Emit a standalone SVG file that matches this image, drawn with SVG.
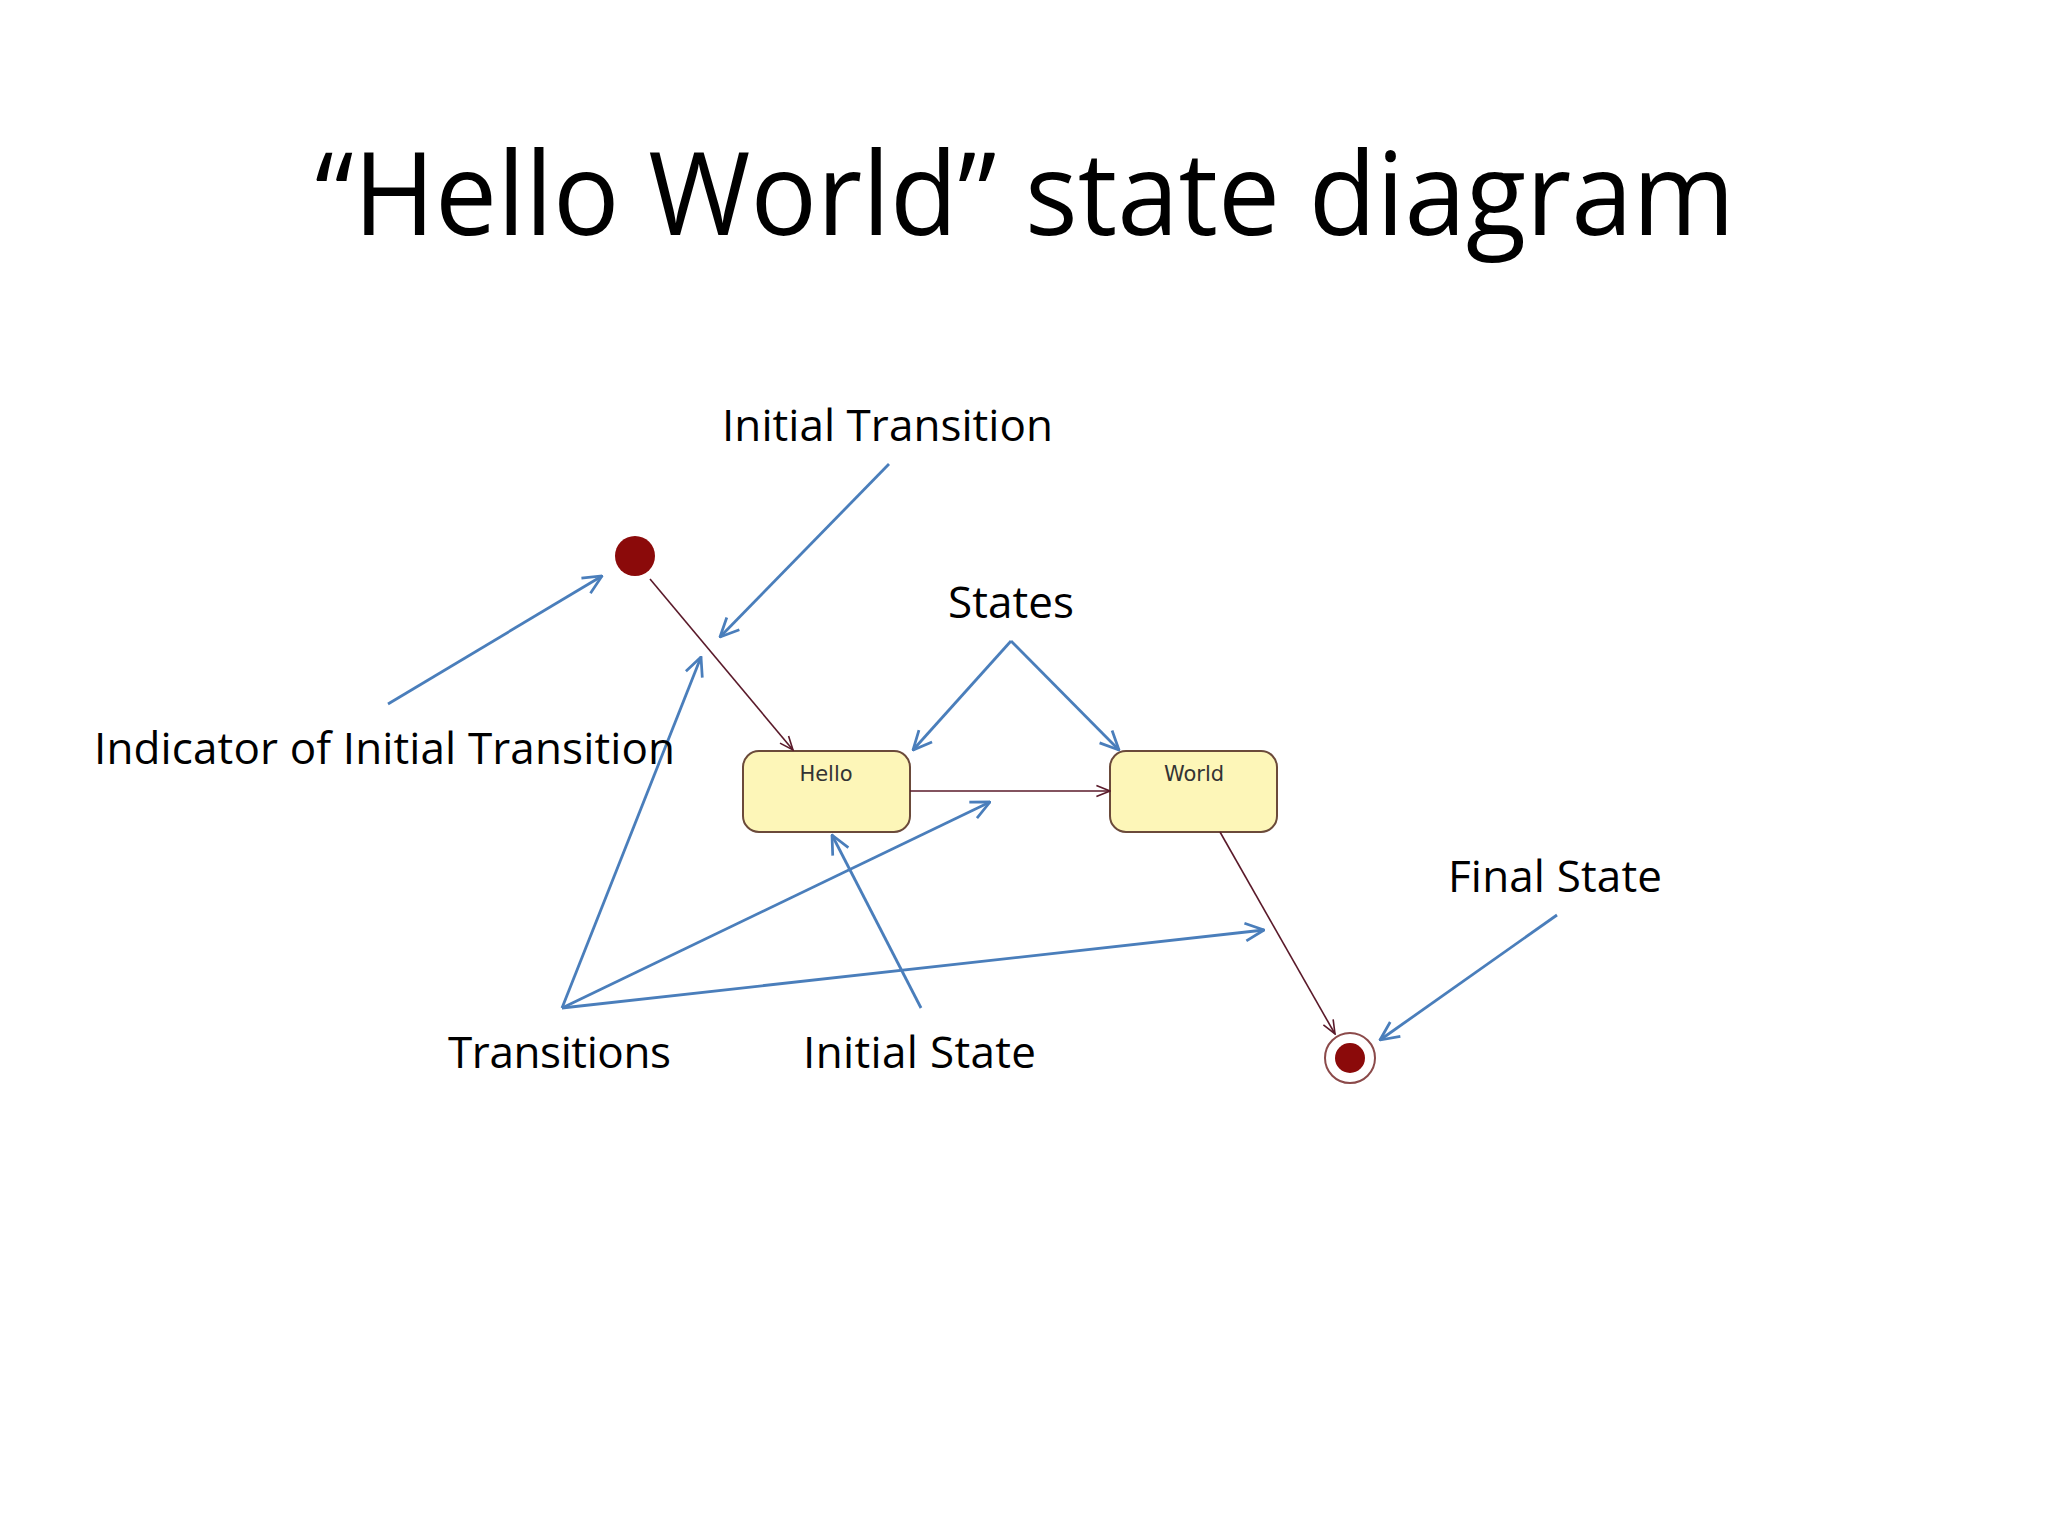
<svg xmlns="http://www.w3.org/2000/svg" width="2048" height="1536" viewBox="0 0 2048 1536">
<defs>
<marker id="blue" viewBox="0 0 20 20" refX="19" refY="10" markerWidth="22" markerHeight="22" markerUnits="userSpaceOnUse" orient="auto"><path d="M2,2 L19,10 L2,18" fill="none" stroke="#4a7ebb" stroke-width="2.5"/></marker>
<marker id="dark" viewBox="0 0 20 20" refX="19" refY="10" markerWidth="16" markerHeight="16" markerUnits="userSpaceOnUse" orient="auto"><path d="M2,3 L19,10 L2,17" fill="none" stroke="#5a1a2a" stroke-width="2"/></marker>
</defs>
<style>
.lbl{font-family:"Open Sans","Liberation Sans",sans-serif;font-size:44px;fill:#000}
.st{font-family:"DejaVu Sans","Liberation Sans",sans-serif;font-size:21px;fill:#333;text-anchor:middle}
.box{fill:#fdf6b8;stroke:#6b4a3a;stroke-width:2}
.b{stroke:#4a7ebb;stroke-width:2.8;fill:none;marker-end:url(#blue)}
.d{stroke:#5a1a2a;stroke-width:1.6;fill:none;marker-end:url(#dark)}
</style>
<rect width="2048" height="1536" fill="#fff"/>
<text x="1025" y="235" text-anchor="middle" font-family="Open Sans, Liberation Sans, sans-serif" font-size="116" textLength="1420" lengthAdjust="spacingAndGlyphs">“Hello World” state diagram</text>
<g id="initial"><circle cx="635" cy="556" r="20" fill="#8b0a0a"/></g>
<g id="hello"><rect class="box" x="743" y="751" width="167" height="81" rx="16"/><text class="st" x="826" y="781">Hello</text></g>
<g id="world"><rect class="box" x="1110" y="751" width="167" height="81" rx="16"/><text class="st" x="1194" y="781">World</text></g>
<g id="final"><circle cx="1350" cy="1058" r="25" fill="#fff" stroke="#8b4a4a" stroke-width="2"/><circle cx="1350" cy="1058" r="15" fill="#8b0a0a"/></g>
<g id="connectors">
<line class="d" x1="650" y1="579" x2="793" y2="750"/>
<line class="d" x1="910" y1="791" x2="1110" y2="791"/>
<line class="d" x1="1220" y1="832" x2="1335" y2="1034"/>
</g>
<g id="annotations">
<line class="b" x1="889" y1="464" x2="720" y2="637"/>
<line class="b" x1="388" y1="704" x2="602" y2="576"/>
<line class="b" x1="1011" y1="641" x2="913" y2="750"/>
<line class="b" x1="1011" y1="641" x2="1119" y2="750"/>
<line class="b" x1="562" y1="1008" x2="701" y2="657"/>
<line class="b" x1="562" y1="1008" x2="990" y2="802"/>
<line class="b" x1="562" y1="1008" x2="1264" y2="930"/>
<line class="b" x1="921" y1="1008" x2="832" y2="835"/>
<line class="b" x1="1557" y1="915" x2="1380" y2="1040"/>
</g>
<g id="labels">
<text class="lbl" x="722" y="441" textLength="331">Initial Transition</text>
<text class="lbl" x="948" y="618" textLength="126">States</text>
<text class="lbl" x="94" y="764" textLength="581">Indicator of Initial Transition</text>
<text class="lbl" x="1448" y="892" textLength="214">Final State</text>
<text class="lbl" x="448" y="1068" textLength="223">Transitions</text>
<text class="lbl" x="803" y="1068" textLength="233">Initial State</text>
</g>
</svg>
